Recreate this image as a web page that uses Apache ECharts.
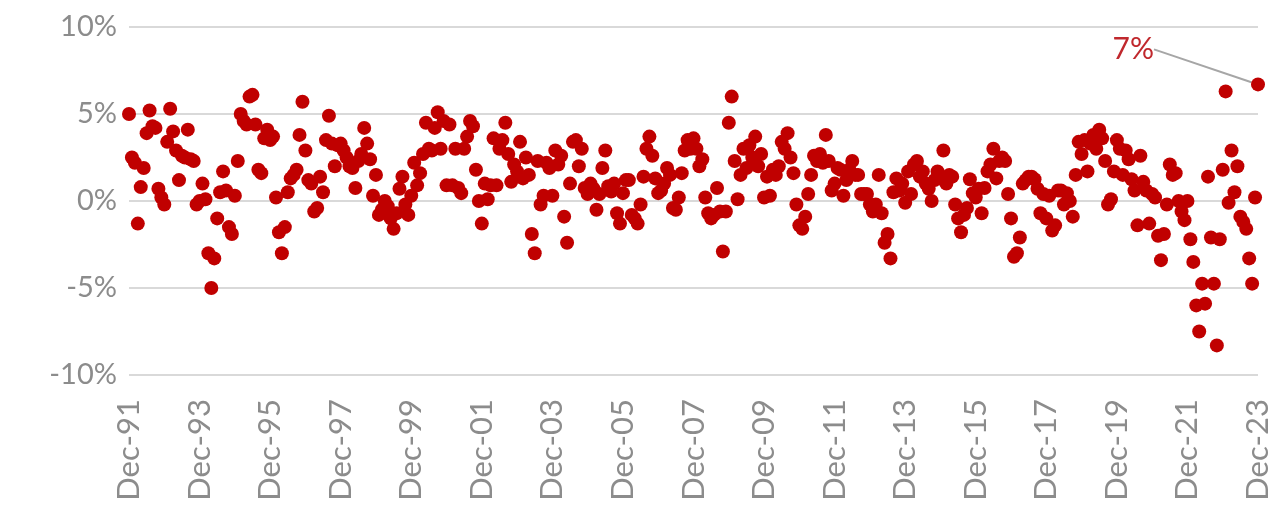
<!DOCTYPE html>
<html>
<head>
<meta charset="utf-8">
<script src="https://cdn.jsdelivr.net/npm/echarts@6/dist/echarts.min.js"></script>
<style>
  html, body { margin: 0; padding: 0; background: #fff; }
  #chart { width: 1283px; height: 519px; }
</style>
</head>
<body>
<div id="chart"></div>
<script>
// monthly values in %, Dec-91 .. Dec-23
var values = [
  5.0, 2.5, 2.2, -1.3, 0.8, 1.9, 3.9, 5.2, 4.3, 4.2, 0.7, 0.2,
  -0.2, 3.4, 5.3, 4.0, 2.9, 1.2, 2.6, 2.5, 4.1, 2.4, 2.3, -0.2,
  0.0, 1.0, 0.1, -3.0, -5.0, -3.3, -1.0, 0.5, 1.7, 0.6, -1.5, -1.9,
  0.3, 2.3, 5.0, 4.6, 4.4, 6.0, 6.1, 4.4, 1.8, 1.6, 3.6, 4.1,
  3.5, 3.7, 0.2, -1.8, -3.0, -1.5, 0.5, 1.3, 1.5, 1.8, 3.8, 5.7,
  2.9, 1.2, 1.0, -0.6, -0.4, 1.4, 0.5, 3.5, 4.9, 3.3, 2.0, 3.2,
  3.3, 2.9, 2.5, 2.0, 1.9, 0.75, 2.3, 2.7, 4.2, 3.3, 2.4, 0.3,
  1.5, -0.8, -0.5, 0.0, -0.3, -1.0, -1.6, -0.7, 0.7, 1.4, -0.2, -0.8,
  0.3, 2.2, 0.9, 1.6, 2.7, 4.5, 3.0, 2.9, 4.2, 5.1, 3.0, 4.6,
  0.9, 4.4, 0.9, 3.0, 0.75, 0.45, 3.0, 3.7, 4.6, 4.3, 1.8, 0.0,
  -1.3, 1.0, 0.1, 0.9, 3.6, 0.9, 3.0, 3.5, 4.5, 2.7, 1.1, 2.1,
  1.7, 3.4, 1.3, 2.5, 1.5, -1.9, -3.0, 2.3, -0.2, 0.3, 2.2, 1.9,
  0.3, 2.9, 2.1, 2.6, -0.9, -2.4, 1.0, 3.4, 3.5, 2.0, 3.0, 0.75,
  0.4, 1.0, 0.7, -0.5, 0.4, 1.9, 2.9, 0.85, 0.55, 1.0, -0.7, -1.3,
  0.45, 1.2, 1.2, -0.8, -1.0, -1.3, -0.2, 1.4, 3.0, 3.7, 2.6, 1.3,
  0.45, 0.6, 1.0, 1.9, 1.5, -0.4, -0.5, 0.2, 1.6, 2.9, 3.5, 3.0,
  3.6, 3.0, 2.0, 2.4, 0.2, -0.7, -1.0, -0.8, 0.75, -0.6, -2.9, -0.6,
  4.5, 6.0, 2.3, 0.1, 1.5, 3.0, 1.9, 3.2, 2.5, 3.7, 2.0, 2.7,
  0.2, 1.4, 0.3, 1.8, 1.5, 2.0, 3.4, 3.0, 3.9, 2.5, 1.6, -0.2,
  -1.4, -1.6, -0.9, 0.4, 1.5, 2.6, 2.3, 2.7, 2.2, 3.8, 2.3, 0.6,
  1.0, 1.9, 1.8, 0.3, 1.2, 1.8, 2.3, 1.5, 1.5, 0.4, 0.4, 0.4,
  -0.2, -0.6, -0.2, 1.5, -0.7, -2.4, -1.9, -3.3, 0.5, 1.3, 0.6, 1.0,
  -0.1, 1.7, 0.4, 2.1, 2.3, 1.4, 1.7, 1.0, 0.7, 0.0, 1.2, 1.7,
  1.3, 2.9, 1.0, 1.5, 1.4, -0.2, -1.0, -1.8, -0.8, -0.4, 1.25, 0.45,
  0.2, 0.7, -0.7, 0.75, 1.7, 2.1, 3.0, 1.3, 2.3, 2.5, 2.3, 0.4,
  -1.0, -3.2, -3.0, -2.1, 1.0, 1.2, 1.4, 1.4, 1.25, 0.7, -0.7, 0.4,
  -1.0, 0.3, -1.7, -1.4, 0.6, 0.6, -0.2, 0.45, 0.0, -0.9, 1.5, 3.4,
  2.7, 3.5, 1.7, 3.3, 3.8, 3.0, 4.1, 3.6, 2.3, -0.2, 0.1, 1.7,
  3.5, 3.0, 1.5, 2.9, 2.4, 1.25, 0.6, -1.4, 2.6, 1.1, 0.6, -1.3,
  0.4, 0.2, -2.0, -3.4, -1.9, -0.2, 2.1, 1.5, 1.6, 0.0, -0.6, -1.1,
  0.0, -2.2, -3.5, -6.0, -7.5, -4.75, -5.9, 1.4, -2.1, -4.75, -8.3, -2.2,
  1.8, 6.3, -0.1, 2.9, 0.5, 2.0, -0.9, -1.2, -1.6, -3.3, -4.75, 0.2,
  6.7
];
var monthNames = ['Jan','Feb','Mar','Apr','May','Jun','Jul','Aug','Sep','Oct','Nov','Dec'];
var startYear = 1991, startMonth = 11; // Dec-91
var yTicks = [-10, -5, 0, 5, 10];
var calloutText = '7%';

var categories = [];
for (var i = 0; i < values.length; i++) {
  var m = (startMonth + i) % 12;
  var y = startYear + Math.floor((startMonth + i) / 12);
  categories.push(monthNames[m] + '-' + String(y % 100).padStart(2, '0'));
}
var lastIdx = values.length - 1;

var seriesData = values.map(function (v, i) {
  if (i === lastIdx) {
    return {
      value: v,
      label: { show: true, formatter: calloutText },
      labelLine: { show: true }
    };
  }
  return v;
});

var myChart = echarts.init(document.getElementById('chart'));
myChart.setOption({
  animation: false,
  grid: { left: 129, right: 25, top: 27, bottom: 144 },
  xAxis: {
    type: 'category',
    data: categories,
    boundaryGap: false,
    axisLine: { show: false },
    axisTick: { show: false },
    splitLine: { show: false },
    axisLabel: {
      interval: 23,
      rotate: 90,
      margin: 24,
      color: '#8c8c8c',
      fontSize: 31,
      fontFamily: 'Lato, sans-serif'
    }
  },
  yAxis: {
    type: 'value',
    min: yTicks[0],
    max: yTicks[yTicks.length - 1],
    interval: 5,
    axisLine: { show: false },
    axisTick: { show: false },
    splitLine: { lineStyle: { color: '#d9d9d9', width: 2 } },
    axisLabel: {
      formatter: '{value}%',
      margin: 12,
      color: '#8c8c8c',
      fontSize: 29,
      fontFamily: 'Lato, sans-serif'
    }
  },
  series: [{
    type: 'scatter',
    data: seriesData,
    symbolSize: 14,
    itemStyle: { color: '#c00000', opacity: 1 },
    label: {
      position: 'left',
      color: '#c0282d',
      fontSize: 30,
      fontFamily: 'Lato, sans-serif'
    },
    labelLine: {
      lineStyle: { color: '#a6a6a6', width: 2 }
    },
    labelLayout: function (params) {
      if (params.dataIndex === lastIdx) {
        return { dx: -92, dy: -35 };
      }
      return {};
    }
  }]
});

window.addEventListener('resize', function () {
  myChart.resize();
});
</script>
</body>
</html>
